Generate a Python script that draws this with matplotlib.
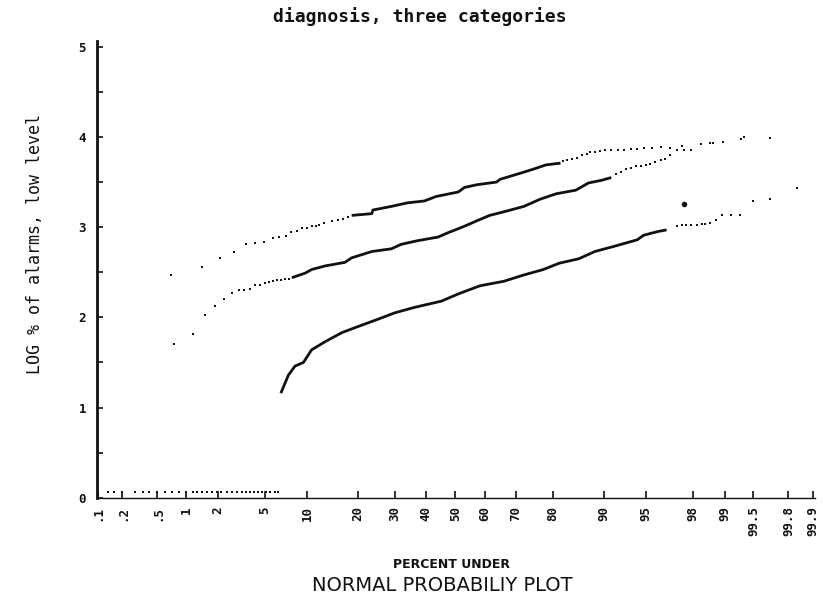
"""
Normal probability plot: diagnosis, three categories
"""

import numpy as np
import matplotlib
matplotlib.use("Agg")
import matplotlib.pyplot as plt
from statistics import NormalDist

# x ticks (percent under)
tick_pct = [0.1, 0.2, 0.5, 1, 2, 5, 10, 20, 30, 40, 50, 60, 70, 80, 90, 95, 98, 99, 99.5, 99.8, 99.9]
tick_labels = ['.1', '.2', '.5', '1', '2', '5', '10', '20', '30', '40', '50', '60', '70', '80',
               '90', '95', '98', '99', '99.5', '99.8', '99.9']

# category 1 (upper curve)
c1_lo_pct = [0.70, 1.43, 2.1, 2.8, 3.5, 4.2, 4.9, 5.7, 6.4, 7.2, 7.8, 8.5, 9.2, 10.0,
             10.7, 11.4, 12.0, 12.8, 14.3, 15.6, 16.6, 17.7]
c1_lo_val = [2.47, 2.56, 2.66, 2.73, 2.81, 2.82, 2.83, 2.88, 2.89, 2.90, 2.95, 2.96, 2.99, 2.99,
             3.01, 3.01, 3.02, 3.05, 3.07, 3.08, 3.09, 3.11]
c1_line_pct = [18.5, 23.5, 23.8, 29.0, 34.0, 39.4, 43.4, 51.0, 53.1, 57.3, 63.9, 65.0,
               72.3, 75.5, 78.3, 81.8]
c1_line_val = [3.13, 3.15, 3.19, 3.23, 3.27, 3.29, 3.34, 3.39, 3.44, 3.47, 3.50, 3.53,
               3.61, 3.65, 3.69, 3.71]
c1_hi_pct = [82.3, 83.3, 84.4, 85.4, 86.3, 87.2, 87.8, 88.6, 89.4, 90.2, 91.1, 92.0, 92.8,
             93.5, 94.2, 94.8, 95.5, 96.2, 96.8, 97.5, 98.3, 98.7]
c1_hi_val = [3.73, 3.74, 3.76, 3.77, 3.80, 3.81, 3.83, 3.83, 3.84, 3.85, 3.85, 3.86, 3.86,
             3.87, 3.87, 3.88, 3.88, 3.89, 3.88, 3.90, 3.92, 3.93]

# category 2 (middle curve)
c2_lo_pct = [0.76, 1.16, 1.52, 1.88, 2.26, 2.67, 3.05, 3.40, 3.79, 4.19, 4.57, 4.97,
             5.37, 5.75, 6.17, 6.59, 7.05, 7.57]
c2_lo_val = [1.71, 1.81, 2.03, 2.13, 2.20, 2.27, 2.30, 2.30, 2.31, 2.36, 2.36, 2.38,
             2.39, 2.40, 2.41, 2.41, 2.42, 2.42]
c2_line_pct = [7.87, 9.7, 10.7, 13.0, 17.0, 18.5, 23.5, 29.0, 32.0, 37.2, 44.0, 47.6,
               53.1, 57.3, 61.6, 66.2, 72.3, 76.8, 80.8, 85.1, 87.5, 89.7, 91.1]
c2_line_val = [2.44, 2.49, 2.53, 2.57, 2.61, 2.66, 2.73, 2.76, 2.81, 2.85, 2.89, 2.94,
               3.01, 3.07, 3.13, 3.17, 3.23, 3.31, 3.37, 3.41, 3.49, 3.52, 3.55]
c2_hi_pct = [91.8, 92.4, 93.0, 93.5, 94.1, 94.6, 95.0, 95.4, 95.8, 96.2, 96.5, 96.8,
             97.2, 97.6, 97.9, 98.6, 98.96, 99.32, 99.37, 99.67]
c2_hi_val = [3.59, 3.61, 3.64, 3.66, 3.68, 3.68, 3.69, 3.70, 3.72, 3.74, 3.75, 3.80,
             3.85, 3.85, 3.86, 3.93, 3.94, 3.98, 4.00, 3.99]

# category 3 (lower curve)
c3_zero_pct = [0.134, 0.16, 0.2, 0.28, 0.35, 0.40, 0.49, 0.60, 0.72, 0.85, 1.0, 1.16, 1.29,
               1.43, 1.59, 1.76, 1.95, 2.16, 2.40, 2.65, 2.93, 3.23, 3.5, 3.8, 4.1, 4.4,
               4.7, 5.1, 5.5, 5.9, 6.3]
c3_zero_val = [0.06] * len(c3_zero_pct)
c3_line_pct = [6.57, 7.45, 8.29, 9.45, 10.7, 13.0, 16.3, 20.1, 25.2, 30.0, 36.1, 45.2,
               51.0, 58.4, 66.2, 72.3, 77.6, 81.5, 85.7, 88.6, 91.6, 94.2, 94.8, 95.95, 96.6]
c3_line_val = [1.16, 1.36, 1.46, 1.50, 1.64, 1.73, 1.83, 1.90, 1.98, 2.05, 2.11, 2.18,
               2.26, 2.35, 2.40, 2.47, 2.53, 2.60, 2.65, 2.73, 2.79, 2.86, 2.91, 2.95, 2.97]
c3_hi_pct = [97.2, 97.5, 97.7, 97.9, 98.15, 98.35, 98.45, 98.6, 98.78, 98.94, 99.13,
             99.31, 99.49, 99.67, 99.84]
c3_hi_val = [3.01, 3.02, 3.02, 3.02, 3.02, 3.03, 3.03, 3.05, 3.08, 3.13, 3.14,
             3.14, 3.29, 3.31, 3.43]
stray_pct = [97.6]
stray_val = [3.26]

_nd = NormalDist()


def to_z(p):
    p = np.clip(np.asarray(p, dtype=float), 1e-4, 100 - 1e-4)
    return np.vectorize(lambda v: _nd.inv_cdf(v / 100.0), otypes=[float])(p)


def to_pct(z):
    z = np.asarray(z, dtype=float)
    return np.vectorize(lambda v: _nd.cdf(v) * 100.0, otypes=[float])(z)


ink = '#111111'
fig = plt.figure(figsize=(8.23, 5.99), dpi=100)
ax = fig.add_axes([0.118, 0.169, 0.872, 0.762])
ax.set_xscale('function', functions=(to_z, to_pct))

dot = dict(ls='none', marker='s', ms=1.6, color=ink, mew=0)
line = dict(color=ink, lw=2.0, solid_capstyle='butt')

ax.plot(c1_lo_pct, c1_lo_val, **dot)
ax.plot(c1_line_pct, c1_line_val, **line)
ax.plot(c1_hi_pct, c1_hi_val, **dot)

ax.plot(c2_lo_pct, c2_lo_val, **dot)
ax.plot(c2_line_pct, c2_line_val, **line)
ax.plot(c2_hi_pct, c2_hi_val, **dot)

ax.plot(c3_zero_pct, c3_zero_val, **dot)
ax.plot(c3_line_pct, c3_line_val, **line)
ax.plot(c3_hi_pct, c3_hi_val, **dot)
ax.plot(stray_pct, stray_val, ls='none', marker='o', ms=4, color=ink, mew=0)

ax.set_xlim(0.098, 99.905)
ax.set_ylim(0, 5.06)

ax.set_xticks(tick_pct)
ax.set_xticklabels(tick_labels, family='DejaVu Sans Mono', fontweight='bold', fontsize=9)
ax.xaxis.set_minor_locator(matplotlib.ticker.NullLocator())
plt.setp(ax.get_xticklabels(), rotation=90, ha='center', va='top')
ax.tick_params(axis='x', direction='in', length=5, width=1.2, pad=6, colors=ink)

ax.set_yticks([0, 1, 2, 3, 4, 5])
ax.set_yticklabels(['0', '1', '2', '3', '4', '5'], family='DejaVu Sans Mono',
                   fontweight='bold', fontsize=9)
ax.set_yticks([0.5, 1.5, 2.5, 3.5, 4.5], minor=True)
ax.tick_params(axis='y', which='both', direction='in', length=4, width=1.2, pad=8, colors=ink)

for side in ['top', 'right']:
    ax.spines[side].set_visible(False)
ax.spines['left'].set_linewidth(2.0)
ax.spines['bottom'].set_linewidth(1.0)
ax.spines['left'].set_color(ink)
ax.spines['bottom'].set_color(ink)

fig.text(0.51, 0.972, 'diagnosis, three categories', ha='center', va='center',
         family='DejaVu Sans Mono', fontweight='bold', fontsize=13, color=ink)
fig.text(0.043, 0.593, 'LOG % of alarms, low level', ha='center', va='center', rotation=90,
         family='DejaVu Sans Mono', fontsize=12, color=ink)
fig.text(0.549, 0.057, 'PERCENT UNDER', ha='center', va='center',
         fontweight='bold', fontsize=9, color=ink)
fig.text(0.537, 0.023, 'NORMAL PROBABILIY PLOT', ha='center', va='center',
         fontsize=14, color=ink)

fig.savefig('out.png', dpi=100)
